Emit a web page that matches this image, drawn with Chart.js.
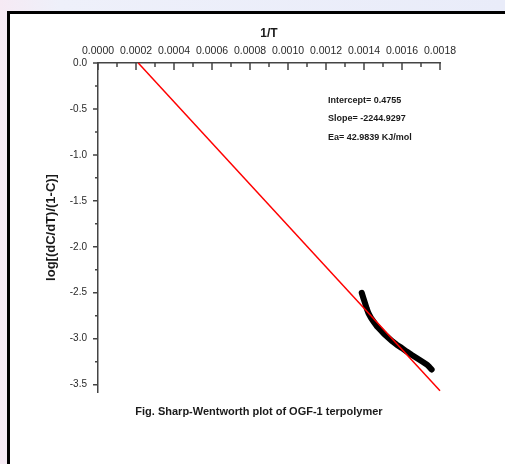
<!DOCTYPE html>
<html>
<head>
<meta charset="utf-8">
<script src="https://cdn.jsdelivr.net/npm/chart.js@4.4.0/dist/chart.umd.min.js"></script>
<style>
  html, body { margin: 0; padding: 0; }
  body {
    width: 505px; height: 464px; overflow: hidden; position: relative;
    background: linear-gradient(90deg, #f6eaf4 0px, #eef0fa 60px, #e9ecf9 100%);
    font-family: "Liberation Sans", Arial, sans-serif;
  }
  #frame {
    position: absolute; left: 7px; top: 11px; width: 520px; height: 480px;
    border: 3px solid #000; background: #fff;
  }
  #wrap { position: absolute; left: 0; top: 0; width: 505px; height: 464px; }
  .note {
    position: absolute; left: 328px; font-size: 9px; font-weight: bold; color: #1a1a1a;
    white-space: nowrap; line-height: 11px;
  }
  #caption {
    position: absolute; left: 0; width: 518px; top: 405px; text-align: center;
    font-size: 11px; font-weight: bold; color: #1a1a1a; white-space: nowrap;
  }
</style>
</head>
<body>
<div id="frame"></div>
<div id="wrap"><canvas id="chart" width="505" height="464"></canvas></div>
<div class="note" style="top:95px">Intercept= 0.4755</div>
<div class="note" style="top:113px">Slope= -2244.9297</div>
<div class="note" style="top:132px">Ea= 42.9839 KJ/mol</div>
<div id="caption">Fig. Sharp-Wentworth plot of OGF-1 terpolymer</div>

<script>
// valores (1/T vs log[(dC/dT)/(1-C)])
const dataX = [0.001388, 0.001397, 0.001405, 0.001414, 0.001423, 0.001436, 0.001449, 0.001466,
               0.001484, 0.001506, 0.001528, 0.00155, 0.001572, 0.001598, 0.001625, 0.00165,
               0.001677, 0.001704, 0.00173, 0.001745, 0.001756];
const dataY = [-2.50, -2.56, -2.61, -2.67, -2.72, -2.77, -2.81, -2.86,
               -2.90, -2.95, -2.99, -3.03, -3.065, -3.10, -3.14, -3.175,
               -3.21, -3.245, -3.28, -3.31, -3.335];

// reta de ajuste (extremos)
const fitX = [0.000212, 0.0018];
const fitY = [0.0, -3.566];

const axisColor = '#444';

// marcas de escala: eixo x para dentro (baixo), eixo y para fora (esquerda)
const tickMarks = {
    id: 'tickMarks',
    afterDraw(chart) {
        const { ctx, scales: { x, y } } = chart;
        ctx.save();
        ctx.strokeStyle = axisColor;
        ctx.lineWidth = 1.5;
        ctx.beginPath();
        for (let i = 0; i <= 18; i++) {
            const px = x.getPixelForValue(i * 0.0001);
            const len = i % 2 === 0 ? 7 : 4;
            ctx.moveTo(px, x.bottom);
            ctx.lineTo(px, x.bottom + len);
        }
        for (let i = 0; i <= 14; i++) {
            const py = y.getPixelForValue(-i * 0.25);
            const len = i % 2 === 0 ? 5 : 3;
            ctx.moveTo(y.right, py);
            ctx.lineTo(y.right - len, py);
        }
        ctx.stroke();
        ctx.restore();
    }
};

const ctx = document.getElementById('chart').getContext('2d');
new Chart(ctx, {
    type: 'scatter',
    data: {
        datasets: [
            {
                label: 'Linear fit',
                data: fitX.map((v, i) => ({ x: v, y: fitY[i] })),
                showLine: true,
                borderColor: '#ff0000',
                borderWidth: 1.5,
                pointRadius: 0,
                order: 0,
                clip: false
            },
            {
                label: 'OGF-1',
                data: dataX.map((v, i) => ({ x: v, y: dataY[i] })),
                showLine: true,
                borderColor: '#000',
                backgroundColor: '#000',
                borderWidth: 6,
                borderCapStyle: 'round',
                borderJoinStyle: 'round',
                pointRadius: 0,
                order: 1,
                clip: false
            }
        ]
    },
    options: {
        responsive: false,
        animation: false,
        events: [],
        layout: { padding: { left: 10, top: 14, right: 65, bottom: 72 } },
        plugins: { legend: { display: false }, tooltip: { enabled: false } },
        scales: {
            x: {
                type: 'linear',
                position: 'top',
                min: 0,
                max: 0.0018,
                afterFit: s => { s.height = 49; },
                grid: { display: false, drawTicks: false },
                border: { display: true, color: axisColor, width: 1.5 },
                ticks: {
                    stepSize: 0.0002,
                    padding: 6,
                    maxRotation: 0,
                    autoSkip: false,
                    color: '#2a2a2a',
                    font: { family: 'Liberation Sans', size: 10.5 },
                    callback: v => v.toFixed(4)
                },
                title: {
                    display: true,
                    text: '1/T',
                    color: '#1a1a1a',
                    padding: { top: 12, bottom: 0 },
                    font: { family: 'Liberation Sans', size: 12, weight: 'bold' }
                }
            },
            y: {
                type: 'linear',
                min: -3.58,
                max: 0,
                afterFit: s => { s.width = 88; },
                grid: { display: false, drawTicks: false },
                border: { display: true, color: axisColor, width: 1.5 },
                ticks: {
                    stepSize: 0.5,
                    includeBounds: false,
                    padding: 11,
                    color: '#2a2a2a',
                    font: { family: 'Liberation Sans', size: 10 },
                    callback: v => v.toFixed(1)
                },
                title: {
                    display: true,
                    text: 'log[(dC/dT)/(1-C)]',
                    color: '#1a1a1a',
                    padding: { top: 34, bottom: 0 },
                    font: { family: 'Liberation Sans', size: 13, weight: 'bold' }
                }
            }
        }
    },
    plugins: [tickMarks]
});
</script>
</body>
</html>
